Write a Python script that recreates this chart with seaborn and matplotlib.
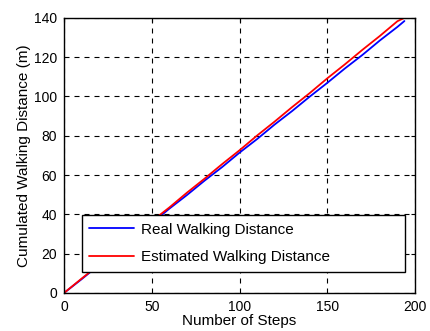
import numpy as np
import pandas as pd
import seaborn as sns
import matplotlib
matplotlib.use("Agg")
import matplotlib.pyplot as plt

steps = [0, 10, 20, 30, 40, 50, 60, 70, 80, 90, 100, 110, 120, 130, 140, 150, 160, 170, 180, 190, 194]
real_dist = [0, 7.0, 14.3, 21.3, 28.6, 35.5, 42.9, 49.8, 57.1, 64.0, 71.4, 78.3, 85.7, 92.6, 99.9, 106.9, 114.2, 121.1, 128.5, 135.4, 138.4]
est_dist = [0, 7.3, 14.4, 21.9, 29.0, 36.5, 43.5, 51.0, 58.1, 65.5, 72.6, 80.1, 87.2, 94.6, 101.7, 109.2, 116.3, 123.7, 130.8, 138.3, 140.0]
labels = ["Real Walking Distance", "Estimated Walking Distance"]
colors = ["#0000ff", "#ff0000"]

df = pd.DataFrame({
    "step": steps * 2,
    "dist": real_dist + est_dist,
    "series": [labels[0]] * len(steps) + [labels[1]] * len(steps),
})

sns.set_style("white")
plt.rcParams["font.family"] = ["Liberation Sans", "DejaVu Sans"]
plt.rcParams["font.size"] = 10

fig = plt.figure(figsize=(4.30, 3.31), dpi=100)
ax = fig.add_axes([0.149, 0.115, 0.816, 0.831])

sns.lineplot(data=df, x="step", y="dist", hue="series", hue_order=labels,
             palette=colors, linewidth=1.3, ax=ax, legend=True)

ax.set_xlim(0, 200)
ax.set_ylim(0, 140)
ax.set_xticks([0, 50, 100, 150, 200])
ax.set_yticks([0, 20, 40, 60, 80, 100, 120, 140])
ax.grid(True, color="black", linestyle=(0, (4.5, 4.5)), linewidth=0.8)
ax.tick_params(direction="in", length=3, labelsize=10, color="black",
               labelcolor="black", top=True, right=True, pad=5)
for s in ax.spines.values():
    s.set_color("black")
    s.set_linewidth(1.0)
ax.set_xlabel("Number of Steps", fontsize=11, labelpad=0, color="black")
ax.set_ylabel("Cumulated Walking Distance (m)", fontsize=11, labelpad=2, color="black")

leg = ax.legend(loc="lower left", bbox_to_anchor=(0.05, 0.0775, 0.923, 0.2),
                mode="expand", fontsize=11, frameon=True, fancybox=False,
                handlelength=2.9, handletextpad=0.5, borderpad=0.5,
                labelspacing=0.86, borderaxespad=0)
leg.get_frame().set_edgecolor("black")
leg.get_frame().set_linewidth(1.0)
leg.get_frame().set_alpha(1)
for t in leg.get_texts():
    t.set_color("black")
for h in leg.get_lines():
    h.set_linewidth(1.3)

fig.savefig("out.png", dpi=100)
